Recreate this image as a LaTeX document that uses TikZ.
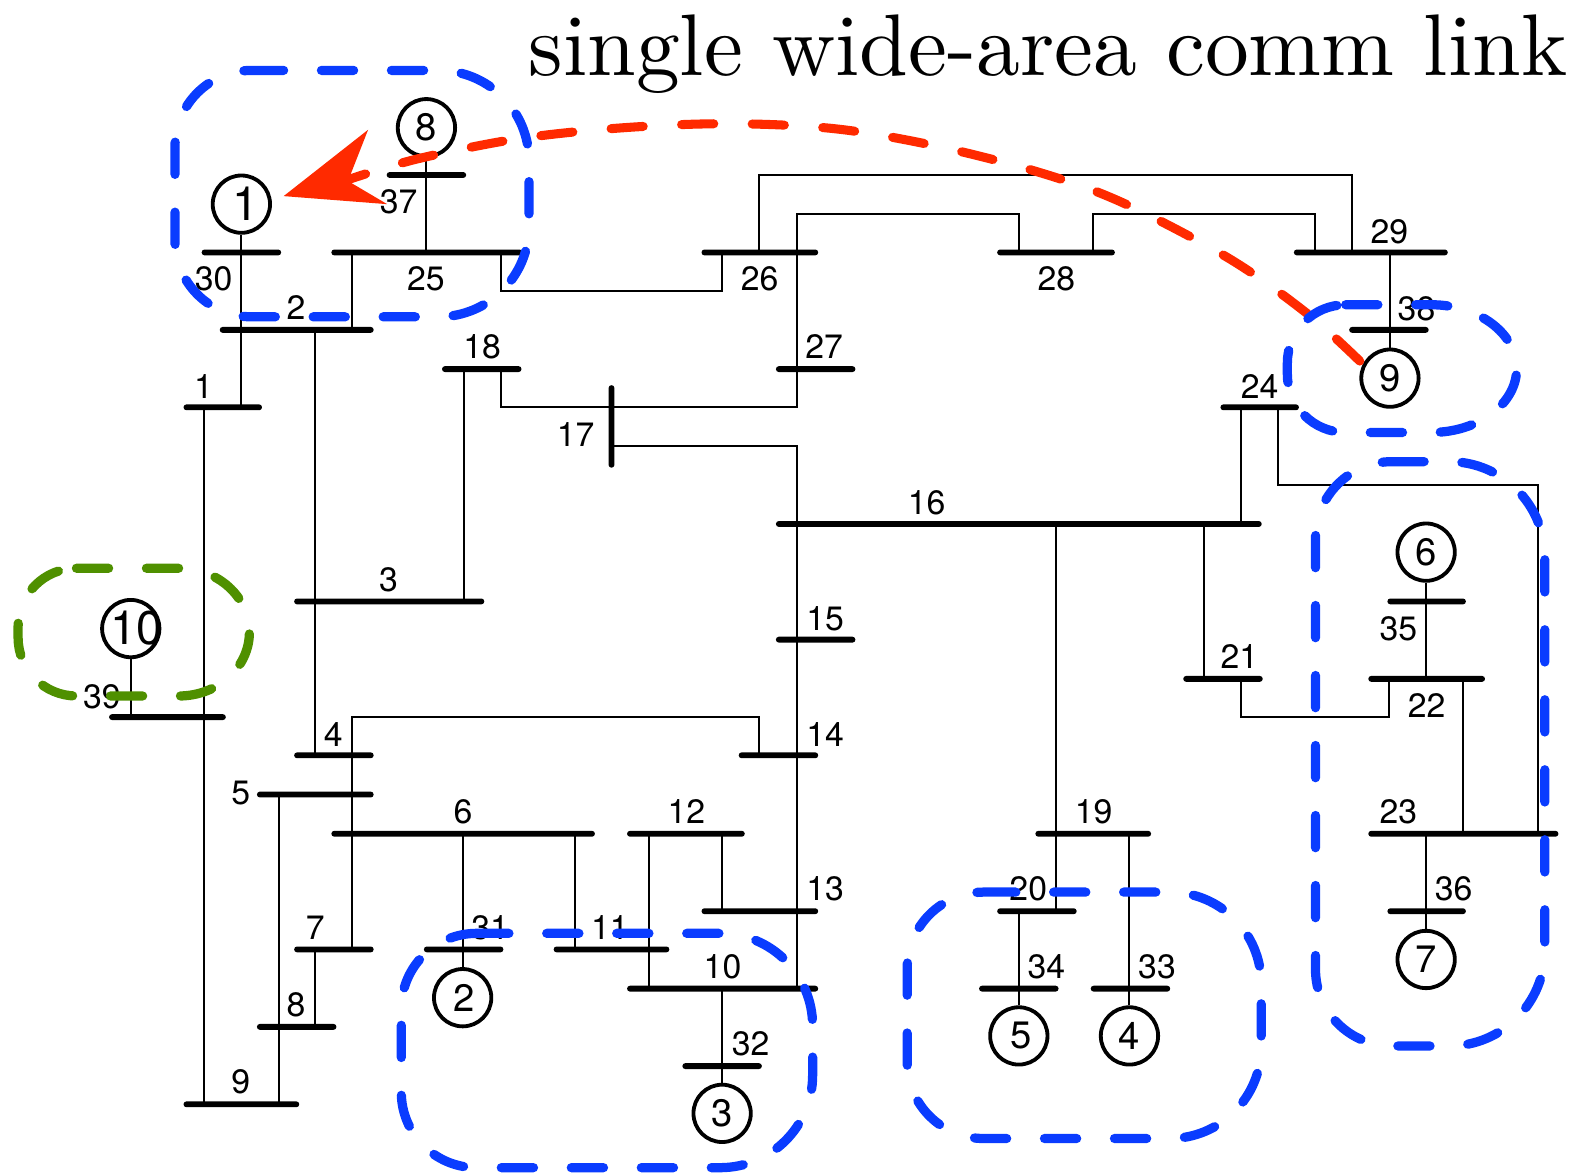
\documentclass[tikz,border=0pt]{standalone}
\usepackage{fontspec}
\setsansfont{TeX Gyre Heros}
\definecolor{loopblue}{HTML}{0A3CFF}
\definecolor{loopgreen}{HTML}{4F9000}
\definecolor{commred}{HTML}{FF2A00}
\newcommand{\busbar}[4]{%
  \pgfmathsetmacro{\bw}{(#3-#2)*0.5+1.5}%
  \pgfmathsetmacro{\bc}{(#3+#2)*0.5}%
  \node[busnode,minimum width=\bw pt] (b#1) at (\bc,#4) {};}
\newcommand{\lab}[3]{\node[lbl] (t#1) at (#2,#3) {#1};}
\newcommand{\vw}[3]{\draw[wire] (#1,0 |- #2) -- (#1,0 |- #3);}
\newcommand{\zonepath}[8]{%
  \pgfmathsetmacro{\xa}{#2+#6}\pgfmathsetmacro{\xb}{#4-#7}%
  \pgfmathsetmacro{\ya}{#3+#6}\pgfmathsetmacro{\yb}{#5-#6}%
  \pgfmathsetmacro{\yc}{#3+#8}\pgfmathsetmacro{\yd}{#5-#8}%
  \pgfmathsetmacro{\kk}{0.5523*#6}\pgfmathsetmacro{\kx}{0.5523*#7}\pgfmathsetmacro{\ky}{0.5523*#8}%
  \draw[zone,#1] (\xa,#3) -- (\xb,#3)
    .. controls (\xb+\kx,#3) and (#4,\yc-\ky) .. (#4,\yc) -- (#4,\yd)
    .. controls (#4,\yd+\ky) and (\xb+\kx,#5) .. (\xb,#5) -- (\xa,#5)
    .. controls (\xa-\kk,#5) and (#2,\yb+\kk) .. (#2,\yb) -- (#2,\ya)
    .. controls (#2,\ya-\kk) and (\xa-\kk,#3) .. (\xa,#3);}
\tikzset{
  busnode/.style={fill=black,inner sep=0pt,outer sep=0pt,minimum height=2.9pt,rounded corners=1.4pt},
  lbl/.style={font=\sffamily\fontsize{16.8}{16.8}\selectfont,inner sep=0pt,xshift=0.2pt},
  wire/.style={line width=1pt,line join=miter},
  gen/.style={circle,draw=black,line width=1.9pt,minimum size=28.5pt,inner sep=0pt,font=\sffamily\fontsize{#1}{#1}\selectfont},
  gen/.default=18,
  zone/.style={line width=4.6pt,line cap=round,line join=round,dash pattern=on 16pt off 18.8pt},
  comm/.style={line width=4.5pt,line cap=round,commred,dash pattern=on 16pt off 19.1pt}
}
\begin{document}
\begin{tikzpicture}[x=0.5pt,y=-0.5pt]
\useasboundingbox (0,0) rectangle (1568,1166);
% busbars
\busbar{30}{202}{278}{251}
\busbar{25}{331}{518}{251}
\busbar{37}{386}{462}{174}
\busbar{2}{220}{370}{328}
\busbar{1}{184}{259}{405}
\busbar{18}{441}{517}{367}
\busbar{26}{699}{812}{251}
\busbar{28}{993}{1107}{251}
\busbar{29}{1288}{1438}{251}
\busbar{38}{1343}{1419}{328}
\busbar{27}{773}{849}{367}
\busbar{24}{1215}{1290}{405}
\busbar{16}{773}{1253}{521}
\busbar{3}{294}{480}{598}
\busbar{15}{773}{849}{636}
\busbar{21}{1178}{1254}{675}
\busbar{22}{1362}{1475}{675}
\busbar{35}{1381}{1456}{598}
\busbar{39}{110}{223}{713}
\busbar{4}{294}{370}{751}
\busbar{14}{736}{812}{751}
\busbar{5}{257}{370}{790}
\busbar{6}{331}{590}{829}
\busbar{12}{625}{739}{829}
\busbar{19}{1031}{1143}{829}
\busbar{23}{1362}{1548}{829}
\busbar{13}{699}{812}{906}
\busbar{20}{993}{1069}{906}
\busbar{36}{1381}{1456}{906}
\busbar{7}{294}{370}{944}
\busbar{31}{423}{499}{944}
\busbar{11}{552}{664}{944}
\busbar{10}{625}{812}{983}
\busbar{34}{975}{1051}{983}
\busbar{33}{1086}{1162}{983}
\busbar{8}{257}{333}{1021}
\busbar{32}{680}{756}{1060}
\busbar{9}{184}{296}{1098}
\node[busnode,minimum width=2.9pt,minimum height=41pt] (b17) at (608,424) {};
% generators
\node[gen=23.5] (g1) at (240,203) {\makebox[0pt]{\kern4pt 1}};
\node[gen=19] (g8) at (424,127) {8};
\node[gen=19] (g9) at (1382,376) {9};
\node[gen=19] (g6) at (1418,549) {6};
\node[gen=19] (g7) at (1418,954) {7};
\node[gen=19] (g5) at (1013,1030) {\makebox[0pt]{\kern2pt 5}};
\node[gen=19] (g4) at (1123,1030) {4};
\node[gen=19] (g3) at (718,1107) {3};
\node[gen=19] (g2) at (460,992) {\makebox[0pt]{\kern1.5pt 2}};
\node[gen=23.5] (g10) at (130,625) {\makebox[0pt]{\kern6pt 10}};
% generator stubs
\draw[wire] (g1) -- (g1 |- b1);
\draw[wire] (g8) -- (g8 |- b25);
\draw[wire] (g9) -- (g9 |- b29);
\draw[wire] (g6) -- (g6 |- b22);
\draw[wire] (g7) -- (g7 |- b23);
\draw[wire] (g5) -- (g5 |- b20);
\draw[wire] (g4) -- (g4 |- b19);
\draw[wire] (g3) -- (g3 |- b10);
\draw[wire] (g2) -- (g2 |- b6);
\draw[wire] (g10) -- (g10 |- b39);
% vertical ties
\vw{350}{b25}{b2}
\vw{313}{b2}{b4}
\vw{461}{b18}{b3}
\vw{203}{b1}{b9}
\vw{350}{b4}{b7}
\vw{277}{b5}{b9}
\vw{313}{b7}{b8}
\vw{572}{b6}{b11}
\vw{645}{b12}{b10}
\vw{718}{b12}{b13}
\vw{792}{b26}{b18}
\vw{792}{b18}{b27}
\vw{792}{b15}{b10}
\vw{792}{b16}{b15}
\vw{1234}{b24}{b16}
\vw{1197}{b16}{b21}
\vw{1050}{b16}{b20}
\vw{1455}{b22}{b23}
% routed ties
\draw[wire] (498,0 |- b25) -- (498,289) -- (718,289) -- (718,0 |- b26);
\draw[wire] (755,0 |- b26) -- (755,174) -- (1344,174) -- (1344,0 |- b29);
\draw[wire] (792,0 |- b26) -- (792,213) -- (1013,213) -- (1013,0 |- b28);
\draw[wire] (1087,0 |- b28) -- (1087,213) -- (1307,213) -- (1307,0 |- b29);
\draw[wire] (498,0 |- b18) -- (498,405) -- (792,405) -- (792,0 |- b27);
\draw[wire] (b17.center |- 0,443) -- (792,443) -- (792,0 |- b16);
\draw[wire] (350,0 |- b4) -- (350,713) -- (755,713) -- (755,0 |- b14);
\draw[wire] (1271,0 |- b24) -- (1271,482) -- (1529,482) -- (1529,0 |- b23);
\draw[wire] (1234,0 |- b21) -- (1234,713) -- (1381,713) -- (1381,0 |- b22);
% bus labels
\lab{30}{212}{277}\lab{25}{423}{277}\lab{26}{755}{277}\lab{28}{1050}{277}
\lab{29}{1381}{230}\lab{38}{1408}{307}\lab{2}{294}{306}\lab{37}{396}{201}
\lab{18}{479}{345}\lab{27}{819}{345}\lab{1}{202}{384}\lab{24}{1252}{384}
\lab{17}{572}{432}\lab{16}{921}{500}\lab{3}{386}{576}\lab{15}{820}{615}
\lab{35}{1390}{625}\lab{21}{1232}{653}\lab{22}{1418}{701}\lab{39}{101}{693}
\lab{4}{331}{730}\lab{14}{820}{730}\lab{5}{239}{788}\lab{6}{460}{807}
\lab{12}{682}{807}\lab{19}{1087}{807}\lab{23}{1390}{807}\lab{20}{1022}{884}
\lab{13}{820}{884}\lab{36}{1445}{884}\lab{7}{313}{922}\lab{31}{487}{922}
\lab{11}{606}{922}\lab{10}{718}{961}\lab{34}{1040}{961}\lab{33}{1150}{961}
\lab{8}{294}{999}\lab{32}{746}{1038}\lab{9}{239}{1076}
% title
\node[anchor=base west,inner sep=0pt,scale=4.35,font=\fontsize{10}{12}\selectfont] (title) at (524,75.5) {single wide-area comm link};
% red comm link
\coordinate (rs) at (1352,359);
\coordinate (re) at (348,178);
\fill[commred] (282,195) -- (366,129) -- (346,180) -- (385,203) -- cycle;
\draw[comm] plot[smooth,tension=0.55] coordinates {(rs) (1300,312) (1222,257) (1115,201) (1032,171) (930,145) (830,128) (725,123) (620,127) (515,138) (415,158) (re)};
% zones
\zonepath{loopblue}{174}{70}{526}{315}{76}{90}{90}
\zonepath{loopblue}{1280}{303}{1508}{430}{58}{85}{63.5}
\zonepath{loopblue}{1308}{459}{1536}{1040}{76}{95}{95}
\zonepath{loopblue}{902}{887}{1254}{1132}{76}{91}{91}
\zonepath{loopblue}{399}{928}{808}{1161}{75}{92}{92}
\zonepath{loopgreen}{18}{565}{248}{692}{58}{70}{63.5}
\end{tikzpicture}
\end{document}
